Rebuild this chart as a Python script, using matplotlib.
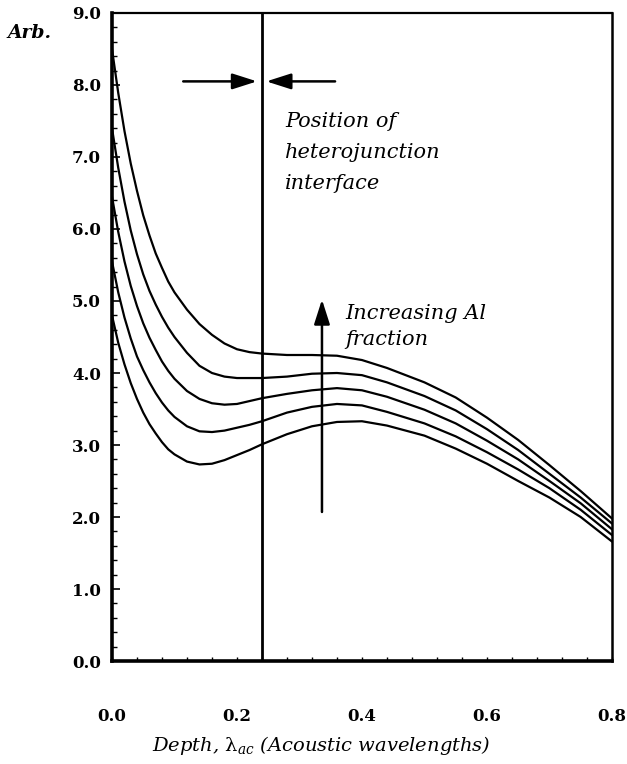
import numpy as np
import matplotlib
matplotlib.use("Agg")
import matplotlib.pyplot as plt
from matplotlib.ticker import MultipleLocator

plt.rcParams['font.family'] = ['DejaVu Serif']
plt.rcParams['mathtext.fontset'] = 'custom'
plt.rcParams['mathtext.rm'] = 'DejaVu Serif'
plt.rcParams['mathtext.it'] = 'DejaVu Serif:italic'

# depth (acoustic wavelengths)
depth = [0.0, 0.01, 0.02, 0.03, 0.04, 0.05, 0.06, 0.07, 0.08, 0.09, 0.10,
         0.12, 0.14, 0.16, 0.18, 0.20, 0.22, 0.24, 0.28, 0.32, 0.36, 0.40,
         0.44, 0.50, 0.55, 0.60, 0.65, 0.70, 0.75, 0.80]

# one curve per Al fraction, highest fraction first
curve_1 = [8.50, 7.89, 7.36, 6.91, 6.53, 6.19, 5.91, 5.66, 5.46, 5.27, 5.12,
           4.88, 4.68, 4.53, 4.41, 4.33, 4.29, 4.27, 4.25, 4.25, 4.24, 4.18,
           4.07, 3.87, 3.66, 3.38, 3.07, 2.72, 2.36, 1.98]
curve_2 = [7.40, 6.85, 6.38, 5.98, 5.65, 5.37, 5.14, 4.95, 4.78, 4.63, 4.50,
           4.28, 4.10, 4.00, 3.95, 3.93, 3.93, 3.93, 3.95, 3.99, 4.00, 3.97,
           3.87, 3.68, 3.48, 3.22, 2.93, 2.60, 2.27, 1.91]
curve_3 = [6.45, 5.96, 5.55, 5.21, 4.93, 4.69, 4.49, 4.32, 4.16, 4.03, 3.92,
           3.75, 3.64, 3.58, 3.56, 3.57, 3.61, 3.65, 3.71, 3.76, 3.79, 3.76,
           3.67, 3.49, 3.30, 3.06, 2.80, 2.50, 2.19, 1.83]
curve_4 = [5.55, 5.12, 4.77, 4.48, 4.23, 4.04, 3.87, 3.72, 3.59, 3.48, 3.39,
           3.26, 3.19, 3.18, 3.20, 3.24, 3.28, 3.33, 3.45, 3.53, 3.57, 3.55,
           3.46, 3.30, 3.12, 2.90, 2.66, 2.40, 2.10, 1.75]
curve_5 = [4.80, 4.42, 4.12, 3.86, 3.64, 3.45, 3.29, 3.16, 3.04, 2.94, 2.87,
           2.77, 2.73, 2.74, 2.79, 2.86, 2.93, 3.01, 3.15, 3.26, 3.32, 3.33,
           3.27, 3.13, 2.95, 2.74, 2.50, 2.27, 2.00, 1.66]
curves = [curve_1, curve_2, curve_3, curve_4, curve_5]

interface = 0.24

fig = plt.figure(figsize=(6.27, 7.64), dpi=100)
ax = fig.add_axes([0.1786, 0.1348, 0.7974, 0.8482])

for c in curves:
    ax.plot(depth, c, color='black', lw=1.6, solid_joinstyle='round')

ax.axvline(interface, color='black', lw=2.0)

arrow = dict(arrowstyle='-|>,head_length=0.75,head_width=0.24', color='black',
             lw=1.8, mutation_scale=20, shrinkA=0, shrinkB=0)
# arrows pointing at the interface
ax.annotate('', xy=(interface - 0.008, 8.05), xytext=(0.114, 8.05), arrowprops=arrow)
ax.annotate('', xy=(interface + 0.007, 8.05), xytext=(0.357, 8.05), arrowprops=arrow)
# increasing Al fraction
ax.annotate('', xy=(0.336, 5.02), xytext=(0.336, 2.07), arrowprops=arrow)

ax.text(0.277, 7.62, 'Position of\nheterojunction\ninterface', style='italic',
        fontsize=15, va='top', ha='left', linespacing=1.78)
ax.text(0.374, 4.96, 'Increasing Al\nfraction', style='italic',
        fontsize=15, va='top', ha='left', linespacing=1.45)

ax.set_xlim(0, 0.8)
ax.set_ylim(0, 9)
ax.xaxis.set_minor_locator(MultipleLocator(0.04))
ax.yaxis.set_minor_locator(MultipleLocator(0.2))
ax.set_xticks(np.arange(0, 0.81, 0.2))
ax.set_yticks(np.arange(0, 9.1, 1.0))
ax.set_xticklabels(['%.1f' % v for v in np.arange(0, 0.81, 0.2)])
ax.set_yticklabels(['%.1f' % v for v in np.arange(0, 9.1, 1.0)])

ax.tick_params(axis='both', which='both', direction='in', top=False, right=False)
ax.tick_params(axis='y', which='major', length=6, width=1.2, pad=8, labelsize=12)
ax.tick_params(axis='y', which='minor', length=3.5, width=1.0)
ax.tick_params(axis='x', which='major', length=3, width=1.0, pad=34, labelsize=12)
ax.tick_params(axis='x', which='minor', length=3, width=1.0)
for lab in ax.get_xticklabels() + ax.get_yticklabels():
    lab.set_fontweight('bold')

ax.spines['left'].set_linewidth(2.6)
ax.spines['bottom'].set_linewidth(2.6)
ax.spines['top'].set_linewidth(1.6)
ax.spines['right'].set_linewidth(1.8)

fig.text(0.047, 0.957, 'Arb.', style='italic', fontweight='bold', fontsize=13.5,
         ha='center', va='center')
fig.text(0.513, 0.024, r'Depth, $\mathrm{\lambda}_{\mathit{ac}}$ (Acoustic wavelengths)',
         style='italic', fontsize=14, ha='center', va='center')

fig.savefig('out.png', dpi=100)
